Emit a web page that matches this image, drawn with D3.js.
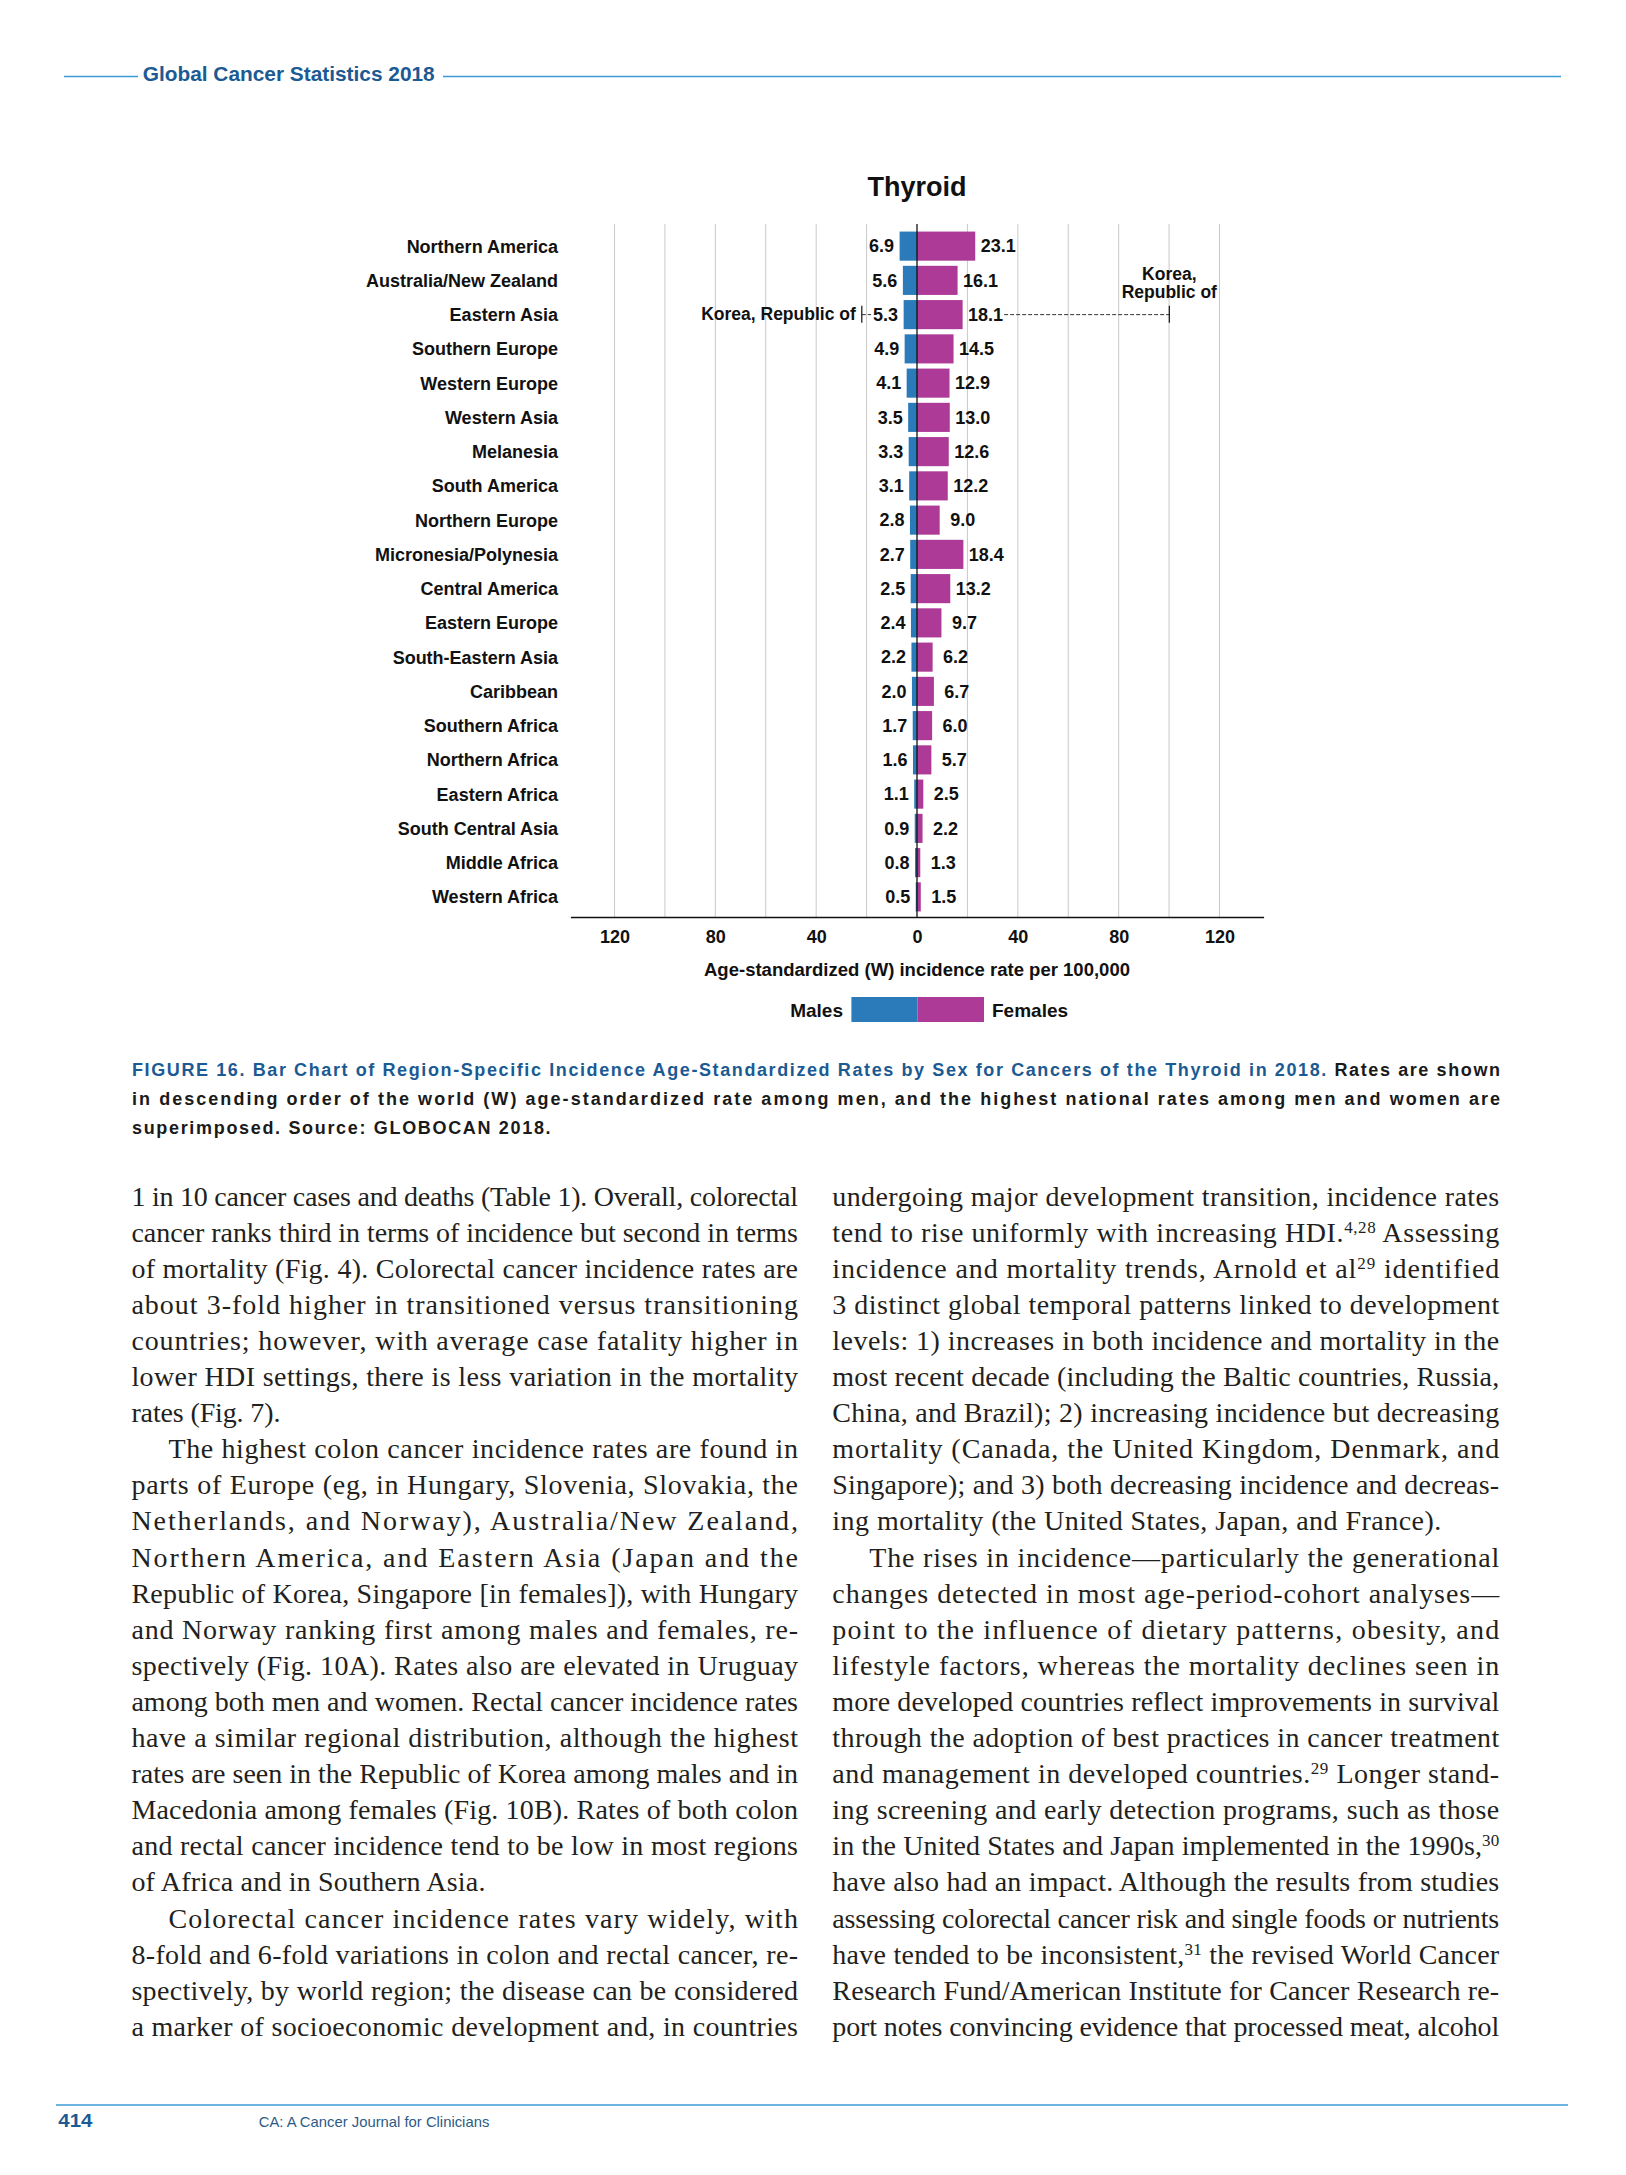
<!DOCTYPE html>
<html><head><meta charset="utf-8">
<script src="https://cdn.jsdelivr.net/npm/d3@7"></script>
<style>body{margin:0;background:#fff} svg{display:block}</style>
</head><body>
<svg id="page" width="1626" height="2175"></svg>
<script>
// ---------- DATA ----------
const categories = ["Northern America","Australia/New Zealand","Eastern Asia","Southern Europe","Western Europe","Western Asia","Melanesia","South America","Northern Europe","Micronesia/Polynesia","Central America","Eastern Europe","South-Eastern Asia","Caribbean","Southern Africa","Northern Africa","Eastern Africa","South Central Asia","Middle Africa","Western Africa"];
const males   = [6.9,5.6,5.3,4.9,4.1,3.5,3.3,3.1,2.8,2.7,2.5,2.4,2.2,2.0,1.7,1.6,1.1,0.9,0.8,0.5];
const females = [23.1,16.1,18.1,14.5,12.9,13.0,12.6,12.2,9.0,18.4,13.2,9.7,6.2,6.7,6.0,5.7,2.5,2.2,1.3,1.5];
const highestRegion = ["Eastern Asia"];
const highestCountry = ["Korea, Republic of"];
const highestMale = [21.9];
const highestFemale = [100.1];
const axisTicks = [-120,-80,-40,0,40,80,120];
const gridTicks = [-120,-100,-80,-60,-40,-20,20,40,60,80,100,120];
const seriesNames = ["Males","Females"];
const chartTitle = "Thyroid";
const axisTitle = "Age-standardized (W) incidence rate per 100,000";

// ---------- TEXT ----------
const headerText = "Global Cancer Statistics 2018";
const captionLines = [
  [["FIGURE 16. Bar Chart of Region-Specific Incidence Age-Standardized Rates by Sex for Cancers of the Thyroid in 2018.", "b"], [" Rates are shown", "k"]],
  [["in descending order of the world (W) age-standardized rate among men, and the highest national rates among men and women are", "k"]],
  [["superimposed. Source: GLOBOCAN 2018.", "k"]]
];
const leftCol = [
  ["j","1 in 10 cancer cases and deaths (Table 1). Overall, colorectal"],
  ["j","cancer ranks third in terms of incidence but second in terms"],
  ["j","of mortality (Fig. 4). Colorectal cancer incidence rates are"],
  ["j","about 3-fold higher in transitioned versus transitioning"],
  ["j","countries; however, with average case fatality higher in"],
  ["j","lower HDI settings, there is less variation in the mortality"],
  ["l","rates (Fig. 7).",149],
  ["i","The highest colon cancer incidence rates are found in"],
  ["j","parts of Europe (eg, in Hungary, Slovenia, Slovakia, the"],
  ["j","Netherlands, and Norway), Australia/New Zealand,"],
  ["j","Northern America, and Eastern Asia (Japan and the"],
  ["j","Republic of Korea, Singapore [in females]), with Hungary"],
  ["j","and Norway ranking first among males and females, re-"],
  ["j","spectively (Fig. 10A). Rates also are elevated in Uruguay"],
  ["j","among both men and women. Rectal cancer incidence rates"],
  ["j","have a similar regional distribution, although the highest"],
  ["j","rates are seen in the Republic of Korea among males and in"],
  ["j","Macedonia among females (Fig. 10B). Rates of both colon"],
  ["j","and rectal cancer incidence tend to be low in most regions"],
  ["l","of Africa and in Southern Asia.",354],
  ["i","Colorectal cancer incidence rates vary widely, with"],
  ["j","8-fold and 6-fold variations in colon and rectal cancer, re-"],
  ["j","spectively, by world region; the disease can be considered"],
  ["j","a marker of socioeconomic development and, in countries"]
];
const rightCol = [
  ["j","undergoing major development transition, incidence rates"],
  ["j","tend to rise uniformly with increasing HDI.^{4,28} Assessing"],
  ["j","incidence and mortality trends, Arnold et al^{29} identified"],
  ["j","3 distinct global temporal patterns linked to development"],
  ["j","levels: 1) increases in both incidence and mortality in the"],
  ["j","most recent decade (including the Baltic countries, Russia,"],
  ["j","China, and Brazil); 2) increasing incidence but decreasing"],
  ["j","mortality (Canada, the United Kingdom, Denmark, and"],
  ["j","Singapore); and 3) both decreasing incidence and decreas-"],
  ["l","ing mortality (the United States, Japan, and France).",609],
  ["i","The rises in incidence\u2014particularly the generational"],
  ["j","changes detected in most age-period-cohort analyses\u2014"],
  ["j","point to the influence of dietary patterns, obesity, and"],
  ["j","lifestyle factors, whereas the mortality declines seen in"],
  ["j","more developed countries reflect improvements in survival"],
  ["j","through the adoption of best practices in cancer treatment"],
  ["j","and management in developed countries.^{29} Longer stand-"],
  ["j","ing screening and early detection programs, such as those"],
  ["j","in the United States and Japan implemented in the 1990s,^{30}"],
  ["j","have also had an impact. Although the results from studies"],
  ["j","assessing colorectal cancer risk and single foods or nutrients"],
  ["j","have tended to be inconsistent,^{31} the revised World Cancer"],
  ["j","Research Fund/American Institute for Cancer Research re-"],
  ["j","port notes convincing evidence that processed meat, alcohol"]
];
const footerPage = "414";
const footerJournal = "CA: A Cancer Journal for Clinicians";

// ---------- DRAW ----------
const svg = d3.select("#page");
const BLUE_DARK = "#1b5a92", BLUE_LINE = "#3b9ad6";
const C_MALE = "#2b7bba", C_FEMALE = "#ad3a96";
const SANS = "'Liberation Sans', Arial, sans-serif";
const SERIF = "'Liberation Serif', 'Times New Roman', serif";

// header
svg.append("line").attr("x1",64).attr("x2",138).attr("y1",76.5).attr("y2",76.5).attr("stroke",BLUE_LINE).attr("stroke-width",1.5);
svg.append("line").attr("x1",443).attr("x2",1561).attr("y1",76.5).attr("y2",76.5).attr("stroke",BLUE_LINE).attr("stroke-width",1.5);
svg.append("text").attr("x",142.7).attr("y",80.7).attr("font-family",SANS).attr("font-weight","bold").attr("font-size",21)
  .attr("fill",BLUE_DARK).attr("textLength",292).attr("lengthAdjust","spacingAndGlyphs").text(headerText);

// chart
const x = d3.scaleLinear().domain([-137.5,137.5]).range([570.4,1263.6]);
const y = d3.scaleBand().domain(categories).range([229,914]).paddingInner(0.15).paddingOuter(0.075);
const bw = y.bandwidth();
const cy = c => y(c) + bw/2;
const g = svg.append("g").attr("font-family",SANS).attr("font-weight","bold");

g.append("text").attr("x",x(0)).attr("y",196).attr("text-anchor","middle").attr("font-size",27).attr("fill","#111").text(chartTitle);

g.selectAll("line.grid").data(gridTicks).join("line").attr("class","grid")
  .attr("x1",d=>x(d)).attr("x2",d=>x(d)).attr("y1",224).attr("y2",917)
  .attr("stroke","#c9c9c9").attr("stroke-width",1);

const rows = categories.map((c,i)=>({c, m:males[i], f:females[i]}));
g.selectAll("rect.m").data(rows).join("rect").attr("class","m")
  .attr("x",d=>x(-d.m)).attr("width",d=>x(0)-x(-d.m)).attr("y",d=>y(d.c)).attr("height",bw).attr("fill",C_MALE);
g.selectAll("rect.f").data(rows).join("rect").attr("class","f")
  .attr("x",x(0)).attr("width",d=>x(d.f)-x(0)).attr("y",d=>y(d.c)).attr("height",bw).attr("fill",C_FEMALE);

g.append("line").attr("x1",x(0)).attr("x2",x(0)).attr("y1",224).attr("y2",917).attr("stroke","#111").attr("stroke-width",1.3);

// category labels
g.selectAll("text.cat").data(categories).join("text").attr("class","cat")
  .attr("x",558).attr("y",d=>cy(d)+6.5).attr("text-anchor","end").attr("font-size",18).attr("fill","#111").text(d=>d);

// value labels
const mLab = g.selectAll("text.mv").data(rows).join("text").attr("class","mv")
  .attr("x",d=>x(-d.m)-18).attr("y",d=>cy(d.c)+6.3).attr("text-anchor","middle").attr("font-size",18).attr("fill","#111")
  .text(d=>d.m.toFixed(1));
const fLab = g.selectAll("text.fv").data(rows).join("text").attr("class","fv")
  .attr("x",d=>x(d.f)+23).attr("y",d=>cy(d.c)+6.3).attr("text-anchor","middle").attr("font-size",18).attr("fill","#111")
  .text(d=>d.f.toFixed(1));

// highest national rates
highestRegion.forEach((reg,k)=>{
  const yc = cy(reg);
  const row = rows.find(r=>r.c===reg);
  const mNode = mLab.filter(d=>d.c===reg).node();
  const fNode = fLab.filter(d=>d.c===reg).node();
  const mLeft = x(-row.m)-18 - mNode.getComputedTextLength()/2;
  const fRight = x(row.f)+23 + fNode.getComputedTextLength()/2;
  const xm = x(-highestMale[k]), xf = x(highestFemale[k]);
  g.append("line").attr("x1",xm).attr("x2",xm).attr("y1",yc-9).attr("y2",yc+8).attr("stroke","#111").attr("stroke-width",1.2);
  g.append("line").attr("x1",xm).attr("x2",mLeft-2).attr("y1",yc).attr("y2",yc).attr("stroke","#333").attr("stroke-width",1).attr("stroke-dasharray","4,2");
  g.append("line").attr("x1",fRight+1).attr("x2",xf).attr("y1",yc).attr("y2",yc).attr("stroke","#333").attr("stroke-width",1).attr("stroke-dasharray","4,2");
  g.append("line").attr("x1",xf).attr("x2",xf).attr("y1",yc-9).attr("y2",yc+8).attr("stroke","#111").attr("stroke-width",1.2);
  g.append("text").attr("x",xm-6).attr("y",yc+5.5).attr("text-anchor","end").attr("font-size",17.5).attr("fill","#111").text(highestCountry[k]);
  const parts = highestCountry[k].split(" ");
  const t = g.append("text").attr("text-anchor","middle").attr("font-size",17.5).attr("fill","#111");
  t.append("tspan").attr("x",xf).attr("y",yc-34.7).text(parts[0]);
  t.append("tspan").attr("x",xf).attr("y",yc-16.7).text(parts.slice(1).join(" "));
});

// x axis
const ax = g.append("g").attr("transform","translate(0,917)")
  .call(d3.axisBottom(x).tickValues(axisTicks).tickFormat(d=>Math.abs(d)).tickSize(0).tickSizeOuter(0).tickPadding(13));
ax.select(".domain").attr("stroke","#111").attr("stroke-width",1.3);
ax.selectAll("text").attr("font-size",18).attr("font-family",SANS).attr("font-weight","bold").attr("fill","#111");
g.append("text").attr("x",x(0)).attr("y",976).attr("text-anchor","middle").attr("font-size",18)
  .attr("textLength",426).attr("lengthAdjust","spacingAndGlyphs").attr("fill","#111").text(axisTitle);

// legend
g.append("rect").attr("x",851.4).attr("y",997).attr("width",66).attr("height",25).attr("fill",C_MALE);
g.append("rect").attr("x",917.4).attr("y",997).attr("width",66.6).attr("height",25).attr("fill",C_FEMALE);
g.append("text").attr("x",843).attr("y",1016.5).attr("text-anchor","end").attr("font-size",19).attr("fill","#111").text(seriesNames[0]);
g.append("text").attr("x",992).attr("y",1016.5).attr("font-size",19).attr("fill","#111").text(seriesNames[1]);

// caption
const capW = [1368,1368,418.6];
const capY = [1075.5,1105,1134];
captionLines.forEach((segs,i)=>{
  const t = svg.append("text").attr("x",132).attr("y",capY[i]).attr("font-family",SANS).attr("font-weight","bold")
    .attr("font-size",18).attr("textLength",capW[i]).attr("lengthAdjust","spacing");
  segs.forEach(s=>t.append("tspan").attr("fill", s[1]==="b" ? BLUE_DARK : "#1a1a1a").text(s[0]));
});

// body text
function drawCol(lines, x0, width){
  lines.forEach((ln,i)=>{
    const type = ln[0], str = ln[1];
    const indent = type==="i" ? 37 : 0;
    const t = svg.append("text").attr("x",x0+indent).attr("y",1205.5+i*36.1)
      .attr("font-family",SERIF).attr("font-size",28).attr("fill","#231f20");
    if(type==="l") t.attr("textLength",ln[2]).attr("lengthAdjust","spacing");
    else t.attr("textLength",width-indent).attr("lengthAdjust","spacing");
    const re = /\^\{([^}]*)\}/g; let last=0, m;
    while((m=re.exec(str))!==null){
      if(m.index>last) t.append("tspan").text(str.slice(last,m.index));
      t.append("tspan").attr("font-size",17).attr("baseline-shift","super").text(m[1]);
      last = re.lastIndex;
    }
    if(last<str.length) t.append("tspan").text(str.slice(last));
  });
}
drawCol(leftCol,131.4,666.6);
drawCol(rightCol,832.3,666.9);

// footer
svg.append("line").attr("x1",56).attr("x2",1568).attr("y1",2105).attr("y2",2105).attr("stroke",BLUE_LINE).attr("stroke-width",1.5);
svg.append("text").attr("x",58.3).attr("y",2126.7).attr("font-family",SANS).attr("font-weight","bold").attr("font-size",19)
  .attr("fill",BLUE_DARK).attr("textLength",34).attr("lengthAdjust","spacingAndGlyphs").text(footerPage);
svg.append("text").attr("x",258.7).attr("y",2126.7).attr("font-family",SANS).attr("font-size",15)
  .attr("fill","#2d5b86").attr("textLength",230.6).attr("lengthAdjust","spacingAndGlyphs").text(footerJournal);
</script>
</body></html>
